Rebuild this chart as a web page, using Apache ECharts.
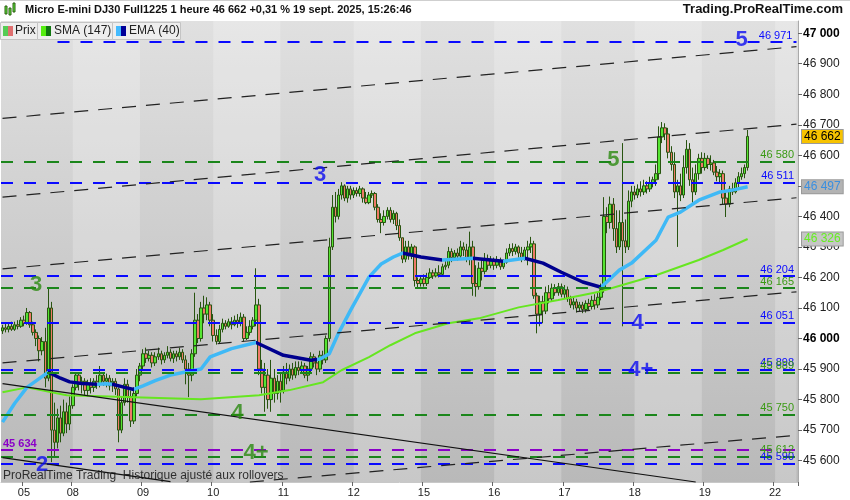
<!DOCTYPE html>
<html>
<head>
<meta charset="utf-8">
<script src="https://cdn.jsdelivr.net/npm/echarts@6/dist/echarts.min.js"></script>
<style>
html,body{margin:0;padding:0;background:#fff}
#chart{width:850px;height:500px}
</style>
</head>
<body>
<div id="chart"></div>
<script>
// hourly bars, one array per trading day : [open, close, low, high]
const day05 = [
  [46025,46035,46015,46045],[46035,46030,46020,46050],[46030,46040,46020,46050],[46040,46030,46025,46055],
  [46030,46045,46025,46055],[46045,46040,46030,46060],[46040,46060,46035,46070],[46060,46050,46040,46075],
  [46050,46085,46045,46100],[46085,46045,46035,46090],[46045,46020,46010,46055],[46020,46000,45975,46030],
  [46000,45960,45925,46010],[45960,45990,45945,46005],[45990,45870,45840,46035],[45870,46100,45860,46165],
  [46100,45700,45595,46120],[45700,45660,45610,45790],[45660,45740,45640,45770],[45740,45690,45660,45780],
  [45690,45760,45680,45800],[45760,45720,45690,45790],[45720,45780,45700,45810]
];
const day08 = [
  [45780,45840,45770,45850],[45840,45880,45830,45890],[45880,45850,45830,45890],[45850,45860,45820,45875],
  [45860,45830,45815,45870],[45830,45850,45810,45865],[45850,45840,45820,45870],[45840,45860,45825,45870],
  [45860,45850,45835,45880],[45850,45880,45840,45910],[45880,45860,45845,45890],[45860,45870,45840,45885],
  [45870,45845,45830,45880],[45845,45860,45825,45870],[45860,45835,45815,45870],[45835,45700,45660,45840],
  [45700,45790,45690,45810],[45790,45850,45780,45870],[45850,45810,45790,45865],[45810,45730,45710,45830],
  [45730,45820,45720,45840],[45820,45880,45810,45900],[45880,45910,45860,45920]
];
const day09 = [
  [45910,45950,45900,45965],[45950,45935,45920,45970],[45935,45945,45925,45960],[45945,45920,45905,45955],
  [45920,45940,45910,45955],[45940,45950,45930,45970],[45950,45930,45915,45960],[45930,45945,45920,45955],
  [45945,45955,45935,45975],[45955,45935,45925,45965],[45935,45950,45920,45960],[45950,45940,45925,45960],
  [45940,45955,45930,45970],[45955,45930,45920,45965],[45930,45900,45850,45945],[45900,45880,45808,45920],
  [45880,45950,45860,45965],[45950,46060,45940,46150],[46060,46000,45985,46080],[46000,46100,45990,46120],
  [46100,46080,46050,46140],[46080,46110,46060,46135],[46110,46060,46040,46120]
];
const day10 = [
  [46060,46010,45990,46080],[46010,45990,45980,46030],[45990,46030,45985,46045],[46030,46050,46020,46065],
  [46050,46040,46030,46060],[46040,46055,46035,46065],[46055,46045,46030,46070],[46045,46060,46040,46075],
  [46060,46050,46035,46080],[46050,46070,46040,46085],[46070,46000,45990,46080],[46000,46020,45995,46040],
  [46020,46040,46010,46060],[46040,46060,46030,46070],[46060,46110,46040,46230],[46110,45900,45880,46130],
  [45900,45840,45820,45930],[45840,45880,45760,45920],[45880,45800,45770,45900],[45800,45870,45760,45930],
  [45870,45820,45790,45900],[45820,45860,45800,45880],[45860,45830,45790,45890]
];
const day11 = [
  [45830,45890,45820,45910],[45890,45870,45850,45920],[45870,45900,45860,45915],[45900,45880,45865,45920],
  [45880,45905,45870,45925],[45905,45895,45880,45925],[45895,45910,45885,45925],[45910,45880,45870,45920],
  [45880,45900,45860,45910],[45900,45940,45890,45955],[45940,45920,45905,45950],[45920,45900,45880,45930],
  [45900,45945,45890,45960],[45945,45930,45915,45960],[45930,46000,45920,46010],[46000,46300,45990,46330],
  [46300,46430,46290,46470],[46430,46400,46380,46480],[46400,46470,46390,46490],[46470,46500,46455,46512],
  [46500,46460,46450,46505],[46460,46490,46445,46500],[46490,46470,46455,46500]
];
const day12 = [
  [46470,46485,46460,46495],[46485,46475,46465,46495],[46475,46490,46465,46500],[46490,46460,46445,46495],
  [46460,46445,46440,46480],[46445,46470,46440,46480],[46470,46475,46460,46485],[46475,46430,46420,46480],
  [46430,46390,46380,46440],[46390,46380,46345,46410],[46380,46400,46370,46420],[46400,46420,46390,46430],
  [46420,46390,46380,46430],[46390,46410,46375,46420],[46410,46370,46355,46415],[46370,46330,46320,46390],
  [46330,46260,46247,46330],[46260,46300,46250,46320],[46300,46270,46258,46320],[46270,46300,46260,46310],
  [46300,46190,46170,46305],[46190,46180,46168,46200],[46180,46195,46170,46205]
];
const day15 = [
  [46195,46180,46170,46210],[46180,46200,46172,46215],[46200,46215,46195,46230],[46215,46205,46195,46225],
  [46205,46215,46200,46230],[46215,46210,46200,46240],[46210,46235,46205,46245],[46235,46240,46225,46255],
  [46240,46285,46230,46300],[46285,46265,46250,46295],[46265,46280,46255,46290],[46280,46270,46255,46295],
  [46270,46300,46260,46320],[46300,46290,46270,46315],[46290,46260,46250,46310],[46260,46300,46240,46350],
  [46300,46180,46140,46320],[46180,46170,46137,46240],[46170,46230,46160,46250],[46230,46220,46190,46260],
  [46220,46260,46210,46280],[46260,46240,46225,46275],[46240,46255,46230,46270]
];
const day16 = [
  [46255,46240,46225,46265],[46240,46255,46230,46270],[46255,46235,46225,46265],[46235,46250,46228,46260],
  [46250,46280,46245,46295],[46280,46295,46270,46310],[46295,46285,46270,46312],[46285,46300,46275,46310],
  [46300,46280,46265,46305],[46280,46260,46250,46300],[46260,46290,46255,46300],[46290,46300,46240,46320],
  [46300,46310,46280,46333],[46310,46140,46130,46320],[46140,46080,46017,46150],[46080,46120,46040,46140],
  [46120,46090,46050,46140],[46090,46150,46080,46170],[46150,46130,46115,46175],[46130,46165,46120,46180],
  [46165,46150,46140,46178],[46150,46170,46140,46182],[46170,46145,46135,46180]
];
const day17 = [
  [46145,46160,46130,46175],[46160,46130,46120,46170],[46130,46110,46100,46140],[46110,46120,46095,46135],
  [46120,46100,46085,46130],[46100,46110,46090,46120],[46110,46095,46083,46120],[46095,46115,46085,46125],
  [46115,46105,46090,46130],[46105,46125,46095,46140],[46125,46110,46095,46145],[46110,46135,46100,46150],
  [46135,46160,46125,46180],[46160,46400,46150,46463],[46400,46380,46345,46430],[46380,46440,46360,46465],
  [46440,46360,46320,46460],[46360,46300,46280,46420],[46300,46380,46290,46420],[46380,46320,46040,46640],
  [46320,46300,46280,46390],[46300,46450,46290,46485],[46450,46480,46430,46500]
];
const day18 = [
  [46480,46470,46455,46500],[46470,46490,46460,46505],[46490,46480,46465,46515],[46480,46500,46470,46520],
  [46500,46490,46475,46515],[46490,46510,46480,46530],[46510,46520,46495,46530],[46520,46540,46500,46570],
  [46540,46660,46520,46695],[46660,46690,46640,46709],[46690,46670,46650,46705],[46670,46610,46590,46690],
  [46610,46570,46550,46630],[46570,46480,46460,46610],[46480,46500,46300,46520],[46500,46470,46450,46540],
  [46470,46560,46460,46600],[46560,46620,46540,46650],[46620,46520,46500,46640],[46520,46480,46445,46560],
  [46480,46540,46470,46570],[46540,46590,46520,46605],[46590,46560,46540,46610]
];
const day19 = [
  [46560,46590,46550,46608],[46590,46570,46555,46600],[46570,46575,46550,46600],[46575,46545,46535,46585],
  [46545,46530,46515,46565],[46530,46540,46510,46555],[46540,46460,46440,46550],[46460,46440,46398,46480],
  [46440,46490,46430,46500],[46490,46480,46470,46510],[46480,46510,46475,46525],[46510,46530,46495,46545],
  [46530,46540,46520,46560],[46540,46560,46525,46570],[46560,46662,46550,46683]
];

// indicator readings : [bar index, value]
const sma147 = [
  [0,45824],[8,45840],[21,45814],[43,45808],[65,45801],[84,45814],[94,45831],[105,45857],
  [111,45896],[120,45939],[127,45978],[135,46017],[146,46050],[156,46066],[169,46102],[182,46126],
  [195,46152],[203,46175],[214,46207],[228,46257],[236,46290],[244,46326]
];
const ema40 = [
  [0,45726],[4,45788],[8,45840],[15,45890],[19,45870],[22,45858],[26,45853],[31,45850],
  [34,45852],[36,45850],[40,45840],[43,45833],[46,45845],[50,45862],[55,45880],[61,45893],
  [65,45900],[68,45940],[75,45967],[83,45987],[92,45945],[101,45929],[104,45933],[107,45950],
  [110,46017],[114,46093],[120,46201],[124,46244],[128,46267],[131,46280],[137,46267],[144,46257],
  [154,46263],[164,46253],[171,46263],[177,46247],[183,46217],[190,46185],[196,46168],[202,46224],
  [206,46247],[214,46322],[218,46398],[222,46414],[228,46453],[235,46480],[239,46486],[244,46497]
];
// stretches where the EMA falls (drawn dark)
const emaFalling = [[15,31],[36,43],[83,103],[131,144],[154,164],[171,196]];

// horizontal levels
const blueLevels = [46971, 46511, 46204, 46051, 45898, 45590];
const blueLevelStart = [18, 0, 0, 0, 0, 0];
const greenLevels = [46580, 46165, 45889, 45750, 45612];
const purpleLevels = [45634];

// trend lines : [startIndex, startPrice, endIndex, endPrice]
const channelLines = [
  [0,46721,260,46956],
  [0,46463,260,46702],
  [0,46228,260,46461],
  [0,45920,260,46153],
  [81,45530,260,45683]
];
const solidLines = [
  [0,45852,227,45530],
  [0,45610,55,45531]
];

// wave counts
const waveText  = ['3', '2', '3', '4', '4+', '5', '5', '4', '4+'];
const waveIdx   = [11, 13, 104, 77, 83, 242, 200, 208, 209];
const wavePrice = [46175, 45585, 46535, 45755, 45624, 46978, 46585, 46050, 45896];
const waveKind  = ['g', 'b', 'b', 'g', 'g', 'b', 'g', 'b', 'b'];

// axis
const dayNames = ['05','08','09','10','11','12','15','16','17','18','19','22'];
const dayTickIdx = [7,23,46,69,92,115,138,161,184,207,230,253];
const priceTicks = [45600,45700,45800,45900,46000,46100,46200,46300,46400,46500,46600,46700,46800,46900,47000];
const boldTicks = [46000, 47000];

// last values shown on the price axis
const lastPrice = 46662;
const lastEma = 46497;
const lastSma = 46326;

const BARS_PER_DAY = 23;
const SLOTS = 261;

const candles = [].concat(day05, day08, day09, day10, day11, day12, day15, day16, day17, day18, day19);

const categories = [];
for (let i = 0; i < SLOTS; i++) {
    const d = dayNames[Math.floor(i / BARS_PER_DAY)];
    const h = i % BARS_PER_DAY;
    categories.push(d + ' ' + (h < 10 ? '0' + h : h) + ':00');
}

const tickMap = {};
dayTickIdx.forEach((idx, k) => { tickMap[idx] = dayNames[k]; });

function fmt(v) {
    return String(v).replace(/\B(?=(\d{3})+(?!\d))/g, ' ');
}

const BLUE = '#0a0aff';
const GREEN = '#1b861b';
const PURPLE = '#8a00c8';
const FONT = 'Liberation Sans, Arial, sans-serif';

// lighter bands on every other day
const bands = [];
for (let k = 1; k < dayNames.length; k += 2) {
    const a = k * BARS_PER_DAY;
    const b = Math.min(a + BARS_PER_DAY - 1, SLOTS - 1);
    bands.push([{ xAxis: categories[a] }, { xAxis: categories[b] }]);
}

const levelLines = [];
blueLevels.forEach((v, k) => {
    const lbl = { show: true, position: 'insideEndTop', color: BLUE, fontSize: 11, fontFamily: FONT, formatter: fmt(v), distance: [4, 1] };
    const ls = { color: BLUE, type: [12, 11], width: 2 };
    if (blueLevelStart[k] > 0) {
        levelLines.push([
            { coord: [blueLevelStart[k], v], lineStyle: ls, label: lbl },
            { coord: [SLOTS - 1, v] }
        ]);
    } else {
        levelLines.push({ yAxis: v, lineStyle: ls, label: lbl });
    }
});
greenLevels.forEach(v => {
    levelLines.push({
        yAxis: v,
        lineStyle: { color: GREEN, type: [12, 11], width: 2 },
        label: { show: true, position: 'insideEndTop', color: '#3a9a14', fontSize: 11, fontFamily: FONT, formatter: fmt(v), distance: [4, 1] }
    });
});
purpleLevels.forEach(v => {
    levelLines.push({
        yAxis: v,
        lineStyle: { color: PURPLE, type: [12, 11], width: 2 },
        label: { show: true, position: 'insideStartTop', color: PURPLE, fontSize: 11, fontWeight: 'bold', fontFamily: FONT, formatter: fmt(v), distance: [2, 1] }
    });
});

const trendLines = [];
channelLines.forEach(l => {
    trendLines.push([
        { coord: [l[0], l[1]], lineStyle: { color: '#222', type: [14, 10], width: 1.2 } },
        { coord: [l[2], l[3]] }
    ]);
});
solidLines.forEach(l => {
    trendLines.push([
        { coord: [l[0], l[1]], lineStyle: { color: '#111', type: 'solid', width: 1.2 } },
        { coord: [l[2], l[3]] }
    ]);
});

function tag(v, bg, color) {
    return {
        yAxis: v,
        lineStyle: { color: 'rgba(0,0,0,0)', width: 1 },
        label: {
            show: true, position: 'end', distance: 4,
            formatter: fmt(v), color: color, backgroundColor: bg,
            borderColor: '#9a9a9a', borderWidth: 1,
            padding: [1, 2, 0, 2], fontSize: 12, fontFamily: FONT
        }
    };
}

const waveData = waveText.map((t, k) => ({
    value: [waveIdx[k], wavePrice[k]],
    label: { formatter: t, color: waveKind[k] === 'b' ? '#0c0cf0' : '#2a8a10' }
}));

const chart = echarts.init(document.getElementById('chart'), null, { renderer: 'canvas' });

chart.setOption({
    animation: false,
    backgroundColor: '#ffffff',
    textStyle: { fontFamily: FONT },
    grid: {
        left: 1, right: 52, top: 21, bottom: 18,
        show: true, borderWidth: 0,
        backgroundColor: new echarts.graphic.LinearGradient(0, 0, 0, 1, [
            { offset: 0, color: '#e0e0e0' },
            { offset: 1, color: '#b9b9b9' }
        ])
    },
    visualMap: {
        show: false,
        type: 'piecewise',
        seriesIndex: 2,
        dimension: 0,
        pieces: emaFalling.map(r => ({ gte: r[0], lte: r[1], color: '#00008e' })),
        outOfRange: { color: '#3fb9f6' }
    },
    xAxis: {
        type: 'category',
        data: categories,
        boundaryGap: true,
        axisLine: { show: true, lineStyle: { color: '#c8c8c8' } },
        axisTick: {
            show: true, length: 4, lineStyle: { color: '#666' },
            interval: (i) => tickMap[i] !== undefined
        },
        axisLabel: {
            color: '#222', fontSize: 11, fontFamily: FONT, margin: 5,
            interval: (i) => tickMap[i] !== undefined,
            formatter: (val, i) => tickMap[i] || ''
        },
        splitLine: { show: false }
    },
    yAxis: {
        type: 'value',
        position: 'right',
        min: 45530,
        max: 47040,
        scale: true,
        axisLine: { show: true, lineStyle: { color: '#aaaaaa' } },
        axisTick: { show: true, length: 4, lineStyle: { color: '#666' }, customValues: priceTicks },
        axisLabel: {
            customValues: priceTicks,
            color: '#222', fontSize: 12, fontFamily: FONT, margin: 5,
            formatter: v => boldTicks.indexOf(v) >= 0 ? '{b|' + fmt(v) + '}' : fmt(v),
            rich: { b: { fontWeight: 'bold', fontSize: 12, color: '#000', fontFamily: FONT } }
        },
        splitLine: { show: false }
    },
    series: [
        {
            name: 'Prix',
            type: 'candlestick',
            data: candles,
            barWidth: 3,
            itemStyle: {
                color: '#55e532',
                color0: '#ef7a68',
                borderColor: '#285410',
                borderColor0: '#285410',
                borderWidth: 1
            },
            markArea: {
                silent: true,
                itemStyle: { color: 'rgba(255,255,255,0.22)' },
                data: bands
            },
            z: 2
        },
        {
            name: 'SMA (147)',
            type: 'line',
            data: sma147,
            showSymbol: false,
            smooth: false,
            lineStyle: { color: '#66e620', width: 2 },
            z: 3
        },
        {
            name: 'EMA (40)',
            type: 'line',
            data: ema40,
            showSymbol: false,
            lineStyle: { width: 3.5 },
            z: 4
        },
        {
            name: 'levels',
            type: 'line',
            data: [],
            z: 5,
            markLine: {
                silent: true, symbol: 'none',
                data: levelLines.concat(trendLines)
            }
        },
        {
            name: 'waves',
            type: 'scatter',
            data: waveData,
            symbolSize: 0,
            z: 6,
            label: {
                show: true, position: 'inside',
                fontSize: 22, fontWeight: 'bold', fontFamily: FONT
            }
        },
        {
            name: 'tags',
            type: 'line',
            data: [],
            z: 7,
            markLine: {
                silent: true, symbol: 'none',
                data: [
                    tag(lastSma, '#c6c6c6', '#66ee22'),
                    tag(lastEma, '#b3b3b3', '#3a8fe0'),
                    tag(lastPrice, '#f7c300', '#000')
                ]
            }
        }
    ],
    graphic: [
        // title row
        { type: 'rect', left: 0, top: 0, shape: { width: 850, height: 20 }, style: { fill: '#ffffff' }, z: 10 },
        { type: 'line', shape: { x1: 0, y1: 0.5, x2: 850, y2: 0.5 }, style: { stroke: '#cfcfcf' }, z: 11 },
        { type: 'rect', shape: { x: 5, y: 6, width: 2, height: 8 }, style: { fill: '#5fee3a', stroke: '#2b5a10', lineWidth: 1 }, z: 11 },
        { type: 'rect', shape: { x: 9, y: 8, width: 2, height: 7 }, style: { fill: '#5fee3a', stroke: '#2b5a10', lineWidth: 1 }, z: 11 },
        { type: 'rect', shape: { x: 13, y: 3, width: 2, height: 9 }, style: { fill: '#5fee3a', stroke: '#2b5a10', lineWidth: 1 }, z: 11 },
        {
            type: 'text', left: 25, top: 4, z: 11,
            style: { text: 'Micro E-mini DJ30 Full1225 1 heure 46 662 +0,31 % 19 sept. 2025, 15:26:46', fill: '#111', font: 'bold 11px ' + FONT }
        },
        {
            type: 'text', right: 7, top: 3, z: 11,
            style: { text: 'Trading.ProRealTime.com', fill: '#111', font: 'bold 13px ' + FONT }
        },
        // legend boxes
        { type: 'rect', shape: { x: 0.5, y: 22.5, width: 37, height: 17 }, style: { fill: '#eeeeee', stroke: '#c4c4c4' }, z: 11 },
        { type: 'rect', shape: { x: 37.5, y: 22.5, width: 75, height: 17 }, style: { fill: '#eeeeee', stroke: '#c4c4c4' }, z: 11 },
        { type: 'rect', shape: { x: 112.5, y: 22.5, width: 68, height: 17 }, style: { fill: '#eeeeee', stroke: '#c4c4c4' }, z: 11 },
        { type: 'rect', shape: { x: 3, y: 26, width: 5, height: 10 }, style: { fill: '#55cc55' }, z: 12 },
        { type: 'rect', shape: { x: 8, y: 26, width: 5, height: 10 }, style: { fill: '#e07070' }, z: 12 },
        { type: 'text', left: 15, top: 25, z: 12, style: { text: 'Prix', fill: '#222', font: '12px ' + FONT } },
        { type: 'rect', shape: { x: 41, y: 26, width: 5, height: 10 }, style: { fill: '#55ee11' }, z: 12 },
        { type: 'rect', shape: { x: 46, y: 26, width: 5, height: 10 }, style: { fill: '#117711' }, z: 12 },
        { type: 'text', left: 54, top: 25, z: 12, style: { text: 'SMA (147)', fill: '#222', font: '12px ' + FONT } },
        { type: 'rect', shape: { x: 116, y: 26, width: 5, height: 10 }, style: { fill: '#44bbff' }, z: 12 },
        { type: 'rect', shape: { x: 121, y: 26, width: 5, height: 10 }, style: { fill: '#000099' }, z: 12 },
        { type: 'text', left: 129, top: 25, z: 12, style: { text: 'EMA (40)', fill: '#222', font: '12px ' + FONT } },
        // footer note inside the plot
        {
            type: 'text', left: 3, top: 470, z: 12,
            style: { text: 'ProRealTime Trading  Historique ajusté aux rollovers', fill: 'rgba(20,20,20,0.85)', font: '12px ' + FONT }
        }
    ]
});
</script>
</body>
</html>
